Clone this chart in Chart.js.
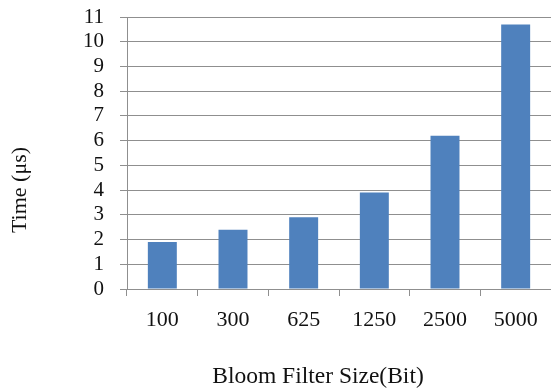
<!DOCTYPE html>
<html>
<head>
<meta charset="utf-8">
<script src="https://cdn.jsdelivr.net/npm/chart.js@4/dist/chart.umd.min.js"></script>
<style>
  html, body { margin: 0; padding: 0; background: #fff; }
  #wrap { width: 551px; height: 391px; }
</style>
</head>
<body>
<div id="wrap"><canvas id="c" width="551" height="391"></canvas></div>
<script>
// Lookup time against Bloom filter size
const filterSizes = ['100', '300', '625', '1250', '2500', '5000'];
const lookupTimes = [1.9, 2.4, 2.9, 3.9, 6.2, 10.7];
const yTicks = [0, 1, 2, 3, 4, 5, 6, 7, 8, 9, 10, 11];
const xTitle = 'Bloom Filter Size(Bit)';
const yTitle = 'Time (μs)';

const serif = '"Liberation Serif", "Times New Roman", serif';
const gridGray = '#8f8f8f';
const textColor = '#111';

// Axis titles sit off-centre from the plot area, so they are placed here
const axisTitles = {
  id: 'axisTitles',
  afterDraw(chart) {
    const { ctx, chartArea } = chart;
    ctx.save();
    ctx.fillStyle = textColor;
    ctx.textAlign = 'center';
    ctx.textBaseline = 'middle';
    ctx.font = '23.5px ' + serif;
    ctx.fillText(xTitle, chartArea.left + 191, chartArea.bottom + 88);
    ctx.translate(20, chartArea.top + 173);
    ctx.rotate(-Math.PI / 2);
    ctx.font = '22px ' + serif;
    ctx.fillText(yTitle, 0, 0);
    ctx.restore();
  }
};

new Chart(document.getElementById('c'), {
  type: 'bar',
  data: {
    labels: filterSizes,
    datasets: [{
      data: lookupTimes,
      backgroundColor: '#4f81bd',
      borderWidth: 0,
      barPercentage: 0.82,
      categoryPercentage: 0.5
    }]
  },
  plugins: [axisTitles],
  options: {
    responsive: false,
    animation: false,
    devicePixelRatio: 1,
    layout: { padding: { top: 17, right: 0, bottom: 0, left: 0 } },
    plugins: { legend: { display: false }, tooltip: { enabled: false } },
    scales: {
      x: {
        offset: true,
        grid: {
          offset: true,
          drawOnChartArea: false,
          drawTicks: true,
          tickLength: 7,
          color: gridGray,
          lineWidth: 1
        },
        border: { color: gridGray, width: 1 },
        ticks: {
          color: textColor,
          padding: 11,
          maxRotation: 0,
          font: { family: serif, size: 22 }
        },
        afterFit: s => { s.height = 102; }
      },
      y: {
        min: 0,
        max: 11,
        afterBuildTicks: s => { s.ticks = yTicks.map(v => ({ value: v })); },
        grid: {
          color: gridGray,
          lineWidth: 1,
          tickLength: 7
        },
        border: { color: gridGray, width: 1 },
        ticks: {
          color: textColor,
          padding: 16,
          autoSkip: false,
          font: { family: serif, size: 21 }
        },
        afterFit: s => {
          s.width = 127;
          s.paddingTop = 0;
          s.paddingBottom = 0;
        }
      }
    }
  }
});
</script>
</body>
</html>
